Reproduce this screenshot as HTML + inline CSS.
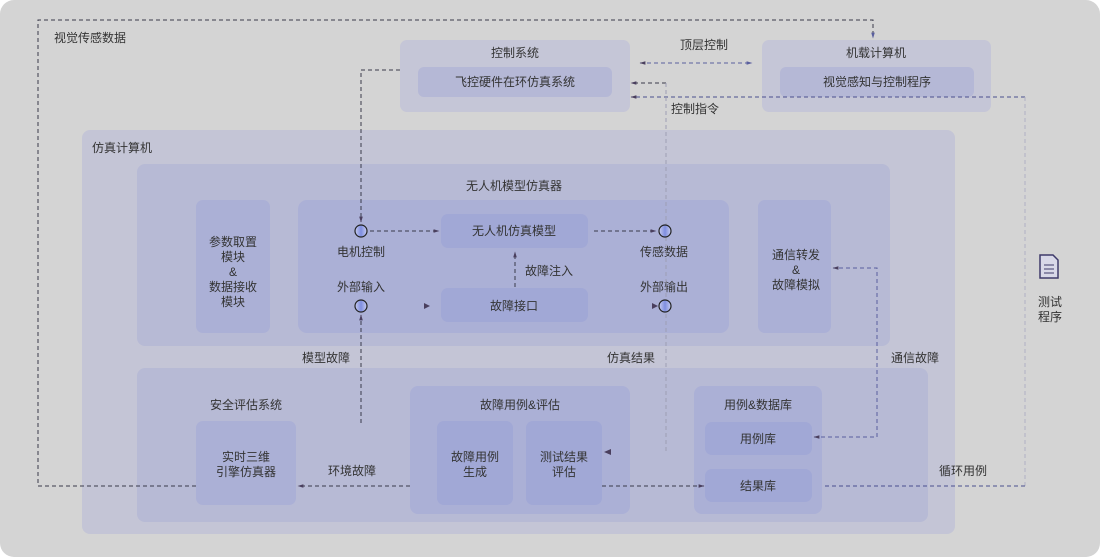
<!DOCTYPE html>
<html><head><meta charset="utf-8"><style>
html,body{margin:0;padding:0;background:#fff;}
svg{display:block;}
text{font-family:"Liberation Sans","Noto Sans CJK SC",sans-serif;font-size:12px;fill:#333;}
</style></head><body>
<svg width="1100" height="557" viewBox="0 0 1100 557" xmlns="http://www.w3.org/2000/svg">
<defs>
<marker id="a" viewBox="0 0 10 10" refX="9" refY="5" markerWidth="6" markerHeight="6" orient="auto-start-reverse"><path d="M0,2 L10,5 L0,8 z" fill="#4a3f5e"/></marker>
<marker id="b" viewBox="0 0 10 10" refX="9" refY="5" markerWidth="6" markerHeight="6" orient="auto-start-reverse"><path d="M0,2 L10,5 L0,8 z" fill="#5a5f9e"/></marker>
<linearGradient id="g" x1="0" x2="1"><stop offset="0" stop-color="#c8cdf0"/><stop offset="0.5" stop-color="#7f8ee0"/><stop offset="1" stop-color="#c8cdf0"/></linearGradient>
</defs>
<rect x="0" y="0" width="1100" height="557" rx="14" fill="#d4d4d4"/>
<!-- top boxes -->
<rect x="400" y="40" width="230" height="72" rx="7" fill="#c5c6d7"/>
<text x="515" y="57" text-anchor="middle">控制系统</text>
<rect x="418" y="67" width="194" height="30" rx="6" fill="#b5b8d6"/>
<text x="515" y="86" text-anchor="middle">飞控硬件在环仿真系统</text>
<rect x="762" y="40" width="229" height="72" rx="7" fill="#c5c6d7"/>
<text x="876" y="57" text-anchor="middle">机载计算机</text>
<rect x="780" y="67" width="194" height="30" rx="6" fill="#b5b8d6"/>
<text x="877" y="86" text-anchor="middle">视觉感知与控制程序</text>
<text x="54" y="42">视觉传感数据</text>
<text x="704" y="49" text-anchor="middle">顶层控制</text>
<text x="695" y="113" text-anchor="middle">控制指令</text>
<!-- sim computer -->
<rect x="82" y="130" width="873" height="404" rx="8" fill="#c4c5d6"/>
<text x="92" y="152">仿真计算机</text>
<rect x="137" y="164" width="753" height="182" rx="8" fill="#b7bad5"/>
<text x="514" y="190" text-anchor="middle">无人机模型仿真器</text>
<rect x="196" y="200" width="74" height="133" rx="7" fill="#abb0d6"/>
<text x="233" y="246" text-anchor="middle">参数取置</text>
<text x="233" y="261" text-anchor="middle">模块</text>
<text x="233" y="276" text-anchor="middle">&amp;</text>
<text x="233" y="291" text-anchor="middle">数据接收</text>
<text x="233" y="306" text-anchor="middle">模块</text>
<rect x="298" y="200" width="431" height="133" rx="9" fill="#abb0d6"/>
<rect x="441" y="214" width="147" height="34" rx="7" fill="#a1a8d6"/>
<text x="514" y="235" text-anchor="middle">无人机仿真模型</text>
<rect x="441" y="288" width="147" height="34" rx="7" fill="#a1a8d6"/>
<text x="514" y="310" text-anchor="middle">故障接口</text>
<rect x="758" y="200" width="73" height="133" rx="7" fill="#abb0d6"/>
<text x="796" y="259" text-anchor="middle">通信转发</text>
<text x="796" y="274" text-anchor="middle">&amp;</text>
<text x="796" y="289" text-anchor="middle">故障模拟</text>
<text x="361" y="256" text-anchor="middle">电机控制</text>
<text x="361" y="291" text-anchor="middle">外部输入</text>
<text x="664" y="256" text-anchor="middle">传感数据</text>
<text x="664" y="291" text-anchor="middle">外部输出</text>
<text x="525" y="275">故障注入</text>
<text x="326" y="362" text-anchor="middle">模型故障</text>
<text x="631" y="362" text-anchor="middle">仿真结果</text>
<text x="915" y="362" text-anchor="middle">通信故障</text>
<!-- bottom -->
<rect x="137" y="368" width="791" height="154" rx="8" fill="#b7bad5"/>
<text x="246" y="409" text-anchor="middle">安全评估系统</text>
<rect x="196" y="421" width="100" height="84" rx="7" fill="#abb0d6"/>
<text x="246" y="461" text-anchor="middle">实时三维</text>
<text x="246" y="476" text-anchor="middle">引擎仿真器</text>
<text x="352" y="475" text-anchor="middle">环境故障</text>
<rect x="410" y="386" width="220" height="128" rx="8" fill="#abb0d6"/>
<text x="520" y="409" text-anchor="middle">故障用例&amp;评估</text>
<rect x="437" y="421" width="76" height="84" rx="7" fill="#a1a8d6"/>
<text x="475" y="461" text-anchor="middle">故障用例</text>
<text x="475" y="476" text-anchor="middle">生成</text>
<rect x="526" y="421" width="76" height="84" rx="7" fill="#a1a8d6"/>
<text x="564" y="461" text-anchor="middle">测试结果</text>
<text x="564" y="476" text-anchor="middle">评估</text>
<rect x="694" y="386" width="128" height="128" rx="8" fill="#abb0d6"/>
<text x="758" y="409" text-anchor="middle">用例&amp;数据库</text>
<rect x="705" y="422" width="107" height="33" rx="7" fill="#a1a8d6"/>
<text x="758" y="443" text-anchor="middle">用例库</text>
<rect x="705" y="469" width="107" height="33" rx="7" fill="#a1a8d6"/>
<text x="758" y="490" text-anchor="middle">结果库</text>
<text x="963" y="475" text-anchor="middle">循环用例</text>
<text x="1050" y="306" text-anchor="middle">测试</text>
<text x="1050" y="321" text-anchor="middle">程序</text>
<!-- doc icon -->
<path d="M1040,255 L1053,255 L1058,260 L1058,278 L1040,278 Z" fill="#d8d8e8" stroke="#3e3a6a" stroke-width="1.5"/>
<path d="M1044,265 H1054 M1044,269 H1054 M1044,273 H1054" stroke="#3e3a6a" stroke-width="1"/>
<!-- connectors -->
<g fill="none" stroke-dasharray="4,3" stroke-width="1">
<path d="M196,486 H38 V20 H873 V38" stroke="#3a3a4a" marker-end="url(#b)"/>
<path d="M640,63 H752" stroke="#5a5f9e" marker-start="url(#a)" marker-end="url(#b)"/>
<path d="M1025,97 H631" stroke="#4a4f8e" marker-end="url(#a)"/>
<path d="M1025,97 V486" stroke="#b0b0c4"/>
<path d="M1025,486 H825" stroke="#4a4f8e"/>
<path d="M666,83 H631" stroke="#3a3a4a" marker-end="url(#a)"/>
<path d="M666,83 V453" stroke="#9e9eb4"/>
<path d="M400,70 H361 V222" stroke="#3a3a4a" marker-end="url(#a)"/>
<path d="M361,423 V315" stroke="#3a3a4a" marker-end="url(#a)"/>
<path d="M410,486 H298" stroke="#3a3a4a" marker-end="url(#a)"/>
<path d="M602,486 H704" stroke="#3a3a4a" marker-end="url(#a)"/>
<path d="M814,437 H877 V268 H833" stroke="#5a5f9e" marker-start="url(#a)" marker-end="url(#a)"/>
<path d="M370,231 H439" stroke="#3a3a4a" marker-end="url(#a)"/>
<path d="M594,231 H656" stroke="#3a3a4a" marker-end="url(#a)"/>
<path d="M515,287 V252" stroke="#3a3a4a" marker-end="url(#a)"/>
</g>
<path d="M424,303 L430,306 L424,309 Z" fill="#4a3f5e"/>
<path d="M652,303 L658,306 L652,309 Z" fill="#4a3f5e"/>
<path d="M611,449 L604,452 L611,455 Z" fill="#4a3f5e"/>
<g stroke="#222" stroke-width="1.2" fill="url(#g)">
<circle cx="361" cy="231" r="6"/><circle cx="665" cy="231" r="6"/>
<circle cx="361" cy="306" r="6"/><circle cx="665" cy="306" r="6"/>
</g>
</svg>
</body></html>
